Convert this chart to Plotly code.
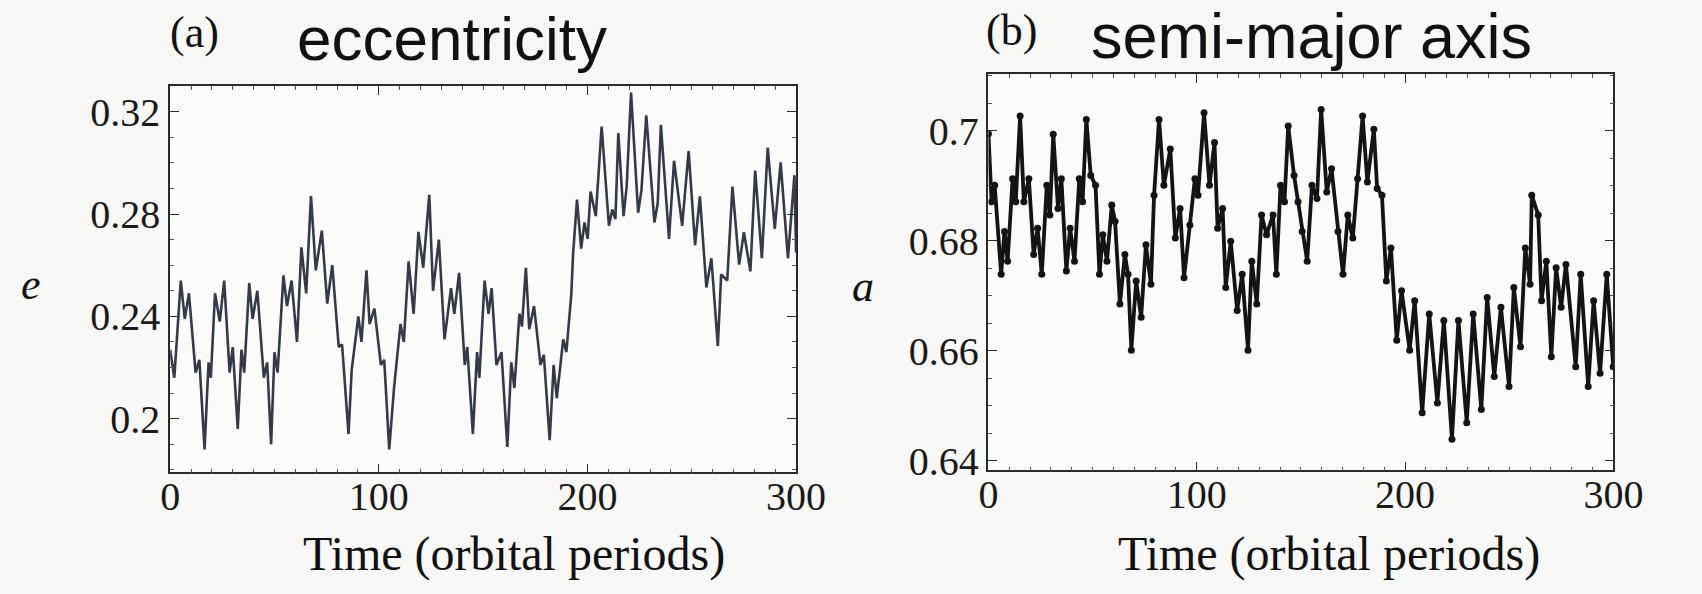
import plotly.graph_objects as go

# ---- (a) eccentricity vs time ----
t_e = [0.0, 2.0, 5.1, 7.0, 9.0, 12.2, 14.0, 16.5, 18.4, 19.5, 21.5, 23.8, 25.9, 28.5, 30.0,
       32.4, 34.2, 35.5, 37.9, 39.5, 41.8, 44.9, 46.5, 48.4, 50.0, 51.5, 54.3, 56.0, 58.2,
       60.8, 62.9, 65.2, 67.5, 69.8, 72.7, 75.3, 77.7, 80.8, 82.4, 85.5, 87.0, 90.2, 91.7,
       94.1, 95.6, 97.9, 101.0, 102.6, 105.0, 107.3, 110.4, 112.0, 114.3, 116.7, 119.0,
       121.3, 124.2, 126.0, 128.8, 131.5, 134.6, 136.2, 138.5, 141.2, 142.4, 145.1, 147.1,
       148.2, 150.7, 152.6, 154.1, 156.4, 158.8, 161.6, 163.5, 165.0, 167.4, 168.6, 170.5,
       172.1, 174.4, 177.5, 179.1, 181.9, 183.8, 185.3, 188.4, 189.9, 192.3, 193.1, 195.0,
       197.0, 198.6, 200.1, 201.5, 204.0, 206.8, 210.3, 211.9, 213.4, 214.8, 217.3, 218.8,
       220.9, 224.3, 225.9, 228.2, 232.1, 233.7, 235.2, 239.1, 241.5, 245.4, 248.5, 251.6,
       253.9, 257.0, 259.4, 262.5, 264.1, 267.0, 269.5, 272.7, 275.0, 278.1, 280.4, 283.6,
       286.4, 289.8, 292.6, 296.1, 299.2, 300.0]
ecc = [0.227, 0.216, 0.254, 0.239, 0.249, 0.218, 0.223, 0.188, 0.222, 0.216, 0.249, 0.238,
       0.254, 0.218, 0.228, 0.196, 0.227, 0.218, 0.253, 0.239, 0.250, 0.216, 0.222, 0.190,
       0.226, 0.218, 0.256, 0.244, 0.254, 0.230, 0.267, 0.249, 0.287, 0.258, 0.2735, 0.245,
       0.260, 0.228, 0.229, 0.194, 0.219, 0.240, 0.230, 0.258, 0.237, 0.243, 0.221, 0.223,
       0.188, 0.212, 0.237, 0.230, 0.2615, 0.241, 0.273, 0.259, 0.2875, 0.250, 0.270, 0.231,
       0.251, 0.241, 0.257, 0.221, 0.228, 0.194, 0.226, 0.216, 0.254, 0.241, 0.251, 0.221,
       0.226, 0.189, 0.222, 0.212, 0.241, 0.236, 0.259, 0.235, 0.244, 0.221, 0.225, 0.1916,
       0.221, 0.208, 0.231, 0.226, 0.249, 0.264, 0.2856, 0.2665, 0.2767, 0.2703, 0.2888,
       0.2792, 0.3142, 0.2754, 0.2818, 0.278, 0.3116, 0.2792, 0.2907, 0.3275, 0.2805, 0.2894,
       0.3186, 0.2767, 0.2843, 0.3148, 0.2703, 0.3008, 0.2754, 0.3046, 0.2678, 0.2869,
       0.2513, 0.2627, 0.2284, 0.2564, 0.254, 0.2907, 0.2602, 0.2729, 0.2576, 0.297, 0.2627,
       0.3059, 0.2742, 0.3002, 0.2627, 0.2951, 0.265]

# ---- (b) semi-major axis vs time ----
t_a = [0.0, 1.5, 3.0, 6.1, 7.7, 9.2, 11.6, 13.1, 15.2, 17.0, 19.4, 21.7, 23.6, 25.6, 28.0,
       29.5, 31.1, 33.4, 35.0, 37.4, 39.2, 41.3, 43.6, 45.2, 47.0, 49.1, 51.4, 53.3, 54.9,
       56.9, 59.2, 60.8, 63.1, 65.5, 67.0, 68.6, 70.9, 73.3, 75.6, 78.0, 79.5, 81.9, 84.2,
       87.3, 89.7, 92.0, 93.9, 96.7, 99.1, 100.6, 103.5, 106.1, 108.5, 110.0, 112.4, 113.9,
       116.3, 119.4, 121.8, 124.6, 126.4, 128.8, 131.1, 133.5, 136.6, 138.2, 140.2, 142.1,
       143.9, 146.7, 148.6, 150.6, 153.0, 155.3, 157.7, 159.7, 162.4, 164.7, 167.8, 170.2,
       172.5, 174.9, 177.2, 179.6, 181.9, 185.0, 186.6, 188.9, 191.0, 193.2, 196.0, 198.3,
       202.2, 204.6, 208.2, 211.6, 215.5, 218.6, 222.5, 225.6, 229.6, 232.7, 236.6, 239.4,
       242.8, 246.0, 249.9, 252.2, 255.4, 257.7, 260.0, 260.8, 263.9, 265.5, 267.8, 270.2,
       272.5, 274.9, 277.2, 281.9, 284.3, 287.9, 290.5, 293.6, 296.8, 299.9]
sma = [0.6995, 0.6871, 0.6901, 0.6739, 0.6817, 0.6763, 0.6913, 0.6871, 0.7027, 0.6871,
       0.6913, 0.6775, 0.6823, 0.6739, 0.6901, 0.6847, 0.6994, 0.6859, 0.6913, 0.6745,
       0.6823, 0.6763, 0.6913, 0.6871, 0.7021, 0.6919, 0.6901, 0.6739, 0.6811, 0.6763,
       0.6865, 0.6835, 0.6685, 0.6775, 0.6739, 0.6601, 0.6727, 0.6661, 0.6793, 0.6721,
       0.6883, 0.7021, 0.6901, 0.6967, 0.6805, 0.6859, 0.6733, 0.6829, 0.6913, 0.6883,
       0.7033, 0.6901, 0.6979, 0.6823, 0.6859, 0.6715, 0.6799, 0.6673, 0.6739, 0.6601,
       0.6763, 0.6685, 0.6847, 0.6811, 0.6847, 0.6739, 0.6901, 0.6871, 0.7009, 0.6919,
       0.6871, 0.6817, 0.6763, 0.6901, 0.6877, 0.7039, 0.6889, 0.6931, 0.6817, 0.6739,
       0.6847, 0.6805, 0.6913, 0.7027, 0.6907, 0.7003, 0.6895, 0.6883, 0.6727, 0.6787,
       0.6619, 0.6709, 0.6601, 0.6691, 0.6487, 0.6667, 0.6505, 0.6655, 0.6439, 0.6655,
       0.6469, 0.6667, 0.6493, 0.6697, 0.6553, 0.6679, 0.6535, 0.6715, 0.6607, 0.6787,
       0.6721, 0.6883, 0.6847, 0.6691, 0.6763, 0.6589, 0.6751, 0.6679, 0.6757, 0.6571,
       0.6739, 0.6535, 0.6691, 0.6559, 0.6739, 0.6571]

x_ticks = [0, 100, 200, 300]
x_ticktext = ["0", "100", "200", "300"]
e_ticks = [0.20, 0.24, 0.28, 0.32]
e_ticktext = ["0.2", "0.24", "0.28", "0.32"]
a_ticks = [0.64, 0.66, 0.68, 0.70]
a_ticktext = ["0.64", "0.66", "0.68", "0.7"]

W, H = 1702, 594
SERIF = "Liberation Serif, Times New Roman, serif"
SANS = "Liberation Sans, Arial, sans-serif"
INK = "#1a1a1a"

fig = go.Figure()
fig.add_trace(go.Scatter(x=t_e, y=ecc, mode="lines", xaxis="x", yaxis="y",
                         line=dict(color="#353a48", width=2.6), showlegend=False))
fig.add_trace(go.Scatter(x=t_a, y=sma, mode="lines+markers", xaxis="x2", yaxis="y2",
                         line=dict(color="#141414", width=3.8),
                         marker=dict(size=7, color="#141414"), showlegend=False))


def px_x(p):
    return p / W


def px_y(p):
    return 1 - p / H


frame = dict(showline=True, linecolor="#2a2a2a", linewidth=1.6, mirror="ticks",
             ticks="inside", ticklen=9, tickwidth=1.4, tickcolor="#2a2a2a",
             showgrid=False, zeroline=False,
             tickfont=dict(family=SERIF, size=40, color=INK))

xcommon = dict(frame, range=[0, 300], tickvals=x_ticks, ticktext=x_ticktext,
               ticklabelstandoff=-12,
               minor=dict(dtick=10, ticklen=4, tickcolor="#555", ticks="inside"))

fig.update_layout(
    width=W, height=H,
    margin=dict(l=0, r=0, t=0, b=0),
    paper_bgcolor="#f7f7f5",
    plot_bgcolor="#fbfbfa",
    xaxis=dict(xcommon, domain=[px_x(164), px_x(805)], anchor="y"),
    yaxis=dict(frame, domain=[px_y(483), px_y(88)], anchor="x",
               range=[0.179, 0.33], tickvals=e_ticks, ticktext=e_ticktext,
               minor=dict(dtick=0.01, ticklen=4, tickcolor="#555", ticks="inside")),
    xaxis2=dict(xcommon, domain=[px_x(1002), px_x(1642)], anchor="y2"),
    yaxis2=dict(frame, domain=[px_y(481), px_y(76)], anchor="x2",
                range=[0.6382, 0.7103], tickvals=a_ticks, ticktext=a_ticktext,
                minor=dict(dtick=0.005, ticklen=4, tickcolor="#555", ticks="inside")),
)

notes = [
    ("(a)", 189, 33, SERIF, 44, False),
    ("eccentricity", 453, 39, SANS, 62, False),
    ("(b)", 1026, 31, SERIF, 44, False),
    ("semi-major axis", 1333, 37, SANS, 63, False),
    ("e", 22, 291, SERIF, 44, True),
    ("a", 874, 293, SERIF, 44, True),
    ("Time (orbital periods)", 516, 566, SERIF, 48, False),
    ("Time (orbital periods)", 1351, 566, SERIF, 48, False),
]
for text, x, y, fam, size, ital in notes:
    fig.add_annotation(
        text=f"<i>{text}</i>" if ital else text,
        x=px_x(x), y=px_y(y), xref="paper", yref="paper",
        xanchor="center", yanchor="middle", showarrow=False,
        font=dict(family=fam, size=size, color="#111"))

fig.write_html("out.html")
